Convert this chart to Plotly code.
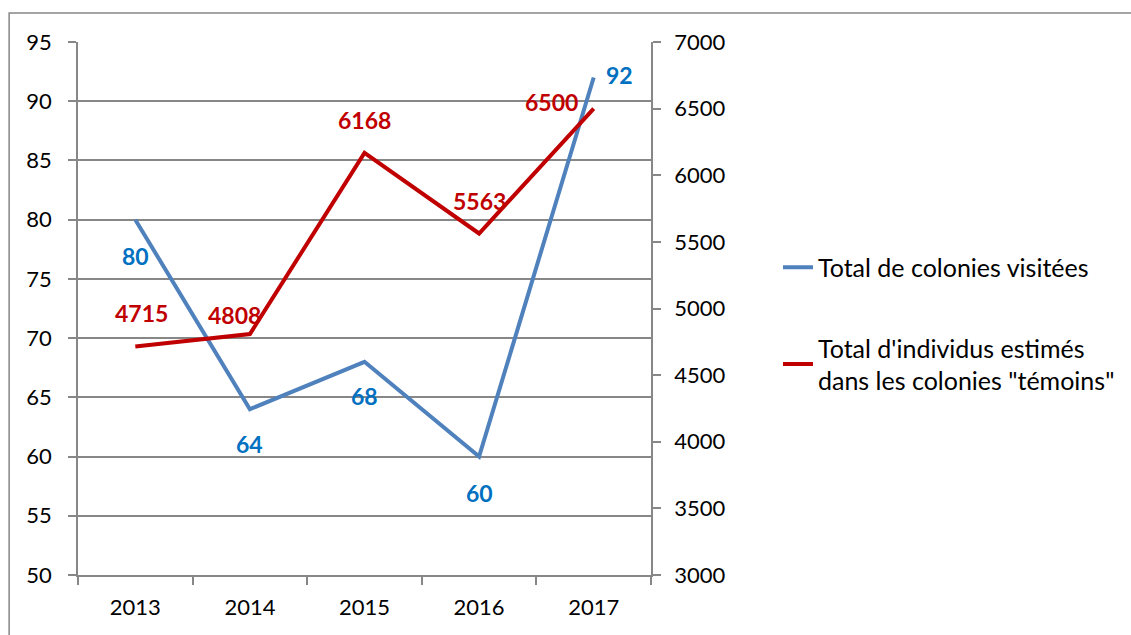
import plotly.graph_objects as go

years = ["2013", "2014", "2015", "2016", "2017"]
colonies = [80, 64, 68, 60, 92]
individus = [4715, 4808, 6168, 5563, 6500]
name_col = "Total de colonies visitées"
name_ind = "Total d'individus estimés<br>dans les colonies \"témoins\""

# label offsets (pixels) for data labels
col_shift = [(0, -36), (0, -35), (0, -34), (0, -36), (26, 3)]
ind_shift = [(6, 33), (-15, 19), (0, 33), (0, 32), (-42, 7)]

FONT = "Lato"
GRAY = "#878787"
fig = go.Figure()
fig.add_trace(go.Scatter(x=years, y=colonies, mode="lines", name=name_col,
                         line=dict(color="#4F81BD", width=4), legendgroup="a"))
fig.add_trace(go.Scatter(x=years, y=individus, mode="lines", name=name_ind,
                         line=dict(color="#C00000", width=4), yaxis="y2", legendgroup="b"))

for i, (v, (dx, dy)) in enumerate(zip(colonies, col_shift)):
    fig.add_annotation(x=i, y=v, xref="x", yref="y", text=f"<b>{v}</b>", showarrow=False,
                       xshift=dx, yshift=dy, font=dict(family=FONT, size=23, color="#0070C0"))
for i, (v, (dx, dy)) in enumerate(zip(individus, ind_shift)):
    fig.add_annotation(x=i, y=v, xref="x", yref="y2", text=f"<b>{v}</b>", showarrow=False,
                       xshift=dx, yshift=dy, font=dict(family=FONT, size=23, color="#C00000"))

# outer border
fig.add_shape(type="rect", xref="paper", yref="paper",
              x0=(9 - 78) / 574, x1=(1140 - 78) / 574,
              y0=(575 - 645) / 533, y1=(575 - 13) / 533,
              line=dict(color=GRAY, width=1.5), fillcolor="rgba(0,0,0,0)", layer="below")

fig.update_layout(
    width=1131, height=635,
    margin=dict(l=78, r=479, t=42, b=60),
    plot_bgcolor="white", paper_bgcolor="white",
    font=dict(family=FONT, size=23, color="black"),
    xaxis=dict(type="category", showgrid=False, showline=True, linecolor=GRAY, linewidth=1.5,
               ticks="outside", tickson="boundaries", ticklen=8, tickcolor=GRAY, tickwidth=1.5,
               tickfont=dict(size=22), range=[-0.5, 4.5], ticklabelstandoff=12),
    yaxis=dict(range=[50, 95], dtick=5, showgrid=True, gridcolor=GRAY, gridwidth=1.5,
               showline=True, linecolor=GRAY, linewidth=1.5, ticks="outside", ticklen=8,
               tickcolor=GRAY, tickwidth=1.5, tickfont=dict(size=22), zeroline=False,
               ticklabelstandoff=12),
    yaxis2=dict(range=[3000, 7000], dtick=500, overlaying="y", side="right", showgrid=False,
                showline=True, linecolor=GRAY, linewidth=1.5, ticks="outside", ticklen=8,
                tickcolor=GRAY, tickwidth=1.5, tickfont=dict(size=22), zeroline=False,
                ticklabelstandoff=9),
    legend=dict(x=1.2195, y=0.62, xanchor="left", yanchor="top", tracegroupgap=45,
                font=dict(size=25), traceorder="grouped", bgcolor="rgba(0,0,0,0)"),
    showlegend=True,
)
fig.write_html("out.html", config={"displayModeBar": False},
               post_script="document.body.style.margin='0';")
